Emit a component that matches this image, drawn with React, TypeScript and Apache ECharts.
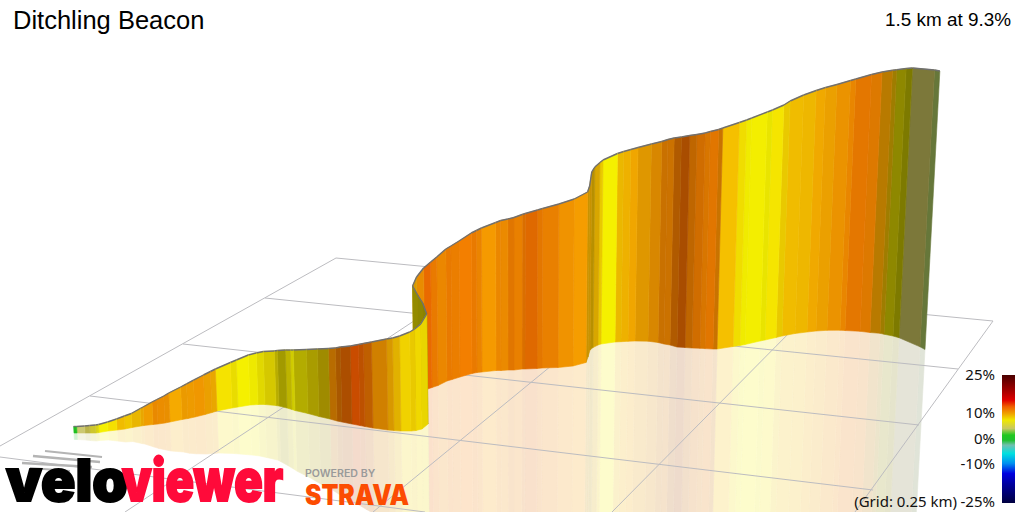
import React, { useEffect, useRef } from "react";
import * as echarts from "echarts";

const titleText = "Ditchling Beacon";
const summaryText = "1.5 km at 9.3%";
const gridNote = "(Grid: 0.25 km)";
const legendTicks = ["25%", "10%", "0%", "-10%", "-25%"];

// Projected road edge, band boundaries (picture units)
const groundX = [74,77,85,90,96,99,108,117,125,132,141,144,153,158,165,170,182,188,195,205,212,217,232,238,250,258,265,276,279,287,292,295,308,319,330,337,342,352,360,365,373,388,394,401,411,416,422,428,424,419,414,418,425,432,438,447,452,460,472,477,482,496,501,508,514,522,525,537,542,558,573,586,588,590,593,598,601,615,621,628,635,648,658,664,670,677,685,692,700,705,713,717,733,740,745,760,765,776,782,795,807,816,827,840,845,860,870,880,884,893,899,920,925];
const groundY = [433,433,433,433,433,432.5,431,430,429,427.5,426,425.5,424.5,424,423,422,419.5,418.5,417,414.5,412.5,411,408,407,405,404.5,404.5,405.5,406,408,409.5,410.5,413.5,416.5,419,421,422,424,425.5,426.5,428,430,430.5,431,431,430.5,429,424,415,405,395,393.5,390,387.5,385.5,381,379.5,377,373.5,372.5,372,370.5,370.5,370,370,369,369,368.5,368,367.5,366,362.5,357,350,347.5,345,344,342,341.7,341.3,341,341.2,342.5,344,345,347,347.5,348,348.3,348.6,349,349,346.5,345.5,344.5,341,340,337.5,336,333.5,332,331,330.3,330.2,330.5,331.3,332.5,333.3,334.2,336,337.7,346.8,349.5];
const topY = [426.5,426.5,426,425.5,425,424.5,422,419,416,413.5,408.5,407,402,399.5,396,393,387,383.8,380.2,375,371.5,369,362.5,360,355,353,351.5,351,350.5,350,350,350,349.5,349,348.5,348,347,346,344.5,343.5,342,339,338,336,332,329,324,314,303,295,286,277,268,262,257,249,246,241,233,230.5,228,222.5,220.5,219,217.5,214.5,213.5,210,208.5,204,199,192,186,172,167,162.5,160,153.5,151.5,149.5,147.5,144,141.5,139.5,138,137,135.5,134.5,133,131.5,129.5,128,122.5,120,118,112,110,105,101,95,90.5,87.5,84.5,80.5,79,74.5,72,70.3,69.8,68.5,68,70,71];
// Gradient (%) of each band between two boundaries, and the light on its face
const grades = [0,1,2,3,5,6,7,8,7.7,8,8.5,9,9.5,9.4,9.3,8.7,9,9,9.2,8.8,8.5,6.8,6.5,6,6,6.3,6.6,6.6,6.4,6.4,6,6.3,6.9,7.3,9.5,10,10.5,10.8,10.6,10.2,9.3,8.6,8,7.3,7.4,7.1,7,6.4,6.4,6.5,8.5,9.4,10.5,10,9.6,10,9.9,10,10,9.7,9.2,9.6,9.5,10,9.8,10.1,10.4,10,9.8,9.3,9.1,8.4,8.4,8,8.1,7.4,6,8,8.3,8.7,8.8,9.2,9.7,9.7,10.1,10.5,9.9,10,9.8,10,9.6,8,6.9,6,6,6,6.7,7.4,8,8.1,8.6,8.8,9.2,9.6,10,9.8,8.9,8,6.3,6,1.5,0.8];
const shades = [1,1,0.9,0.95,0.95,1,1,0.98,0.98,0.95,0.95,0.98,0.95,0.96,0.95,1,0.96,0.97,0.98,0.96,0.95,1,0.95,1,0.97,0.92,0.87,0.75,0.66,0.77,0.85,0.73,0.69,0.65,0.75,0.69,0.7,0.82,0.77,0.78,0.85,0.88,0.92,0.98,0.95,0.98,0.95,0.56,0.58,0.6,0.88,0.95,0.95,0.95,0.96,0.95,0.96,0.99,0.95,0.96,1,0.96,0.96,0.92,0.95,0.89,0.91,0.93,0.95,0.98,1,0.82,0.82,0.75,0.88,0.95,1,0.96,0.97,0.98,0.91,0.88,0.82,0.83,0.72,0.69,0.78,0.85,0.88,0.92,0.82,1,0.98,0.98,0.99,0.95,1,0.95,0.98,0.97,0.98,0.96,0.96,0.95,0.93,0.9,0.75,0.65,0.58,0.51,0.6,0.6];

// Ground grid lines: x1, y1, x2, y2
const gridAcross = [[336,258,993,321],[265,298,958,369],[183,344,919,425],[90,396,873,490],[0,457,425,512]];
const gridAlong = [[0,446,336,258],[125,512,488,272],[373,512,590,334],[612,512,800,322],[855,512,993,321]];

const gradeStops = [0,1,2,3,5,6,7,8,9,10,10.5,11];
const gradeColours = ["#20c020","#ccc870","#d0c850","#d8d030","#e8e010","#f5f000","#f5e000","#f5c000","#f5a000","#f58000","#f57000","#f55000"];

const legendStops: [number, string][] = [[0,"#4a0000"],[0.117,"#a00000"],[0.196,"#e00000"],[0.248,"#f06000"],[0.3,"#f0a000"],[0.352,"#f0e800"],[0.418,"#c8c860"],[0.47,"#20c820"],[0.51,"#20c030"],[0.548,"#70c0b0"],[0.614,"#00e0e0"],[0.69,"#0090f0"],[0.77,"#0000e0"],[0.85,"#0000a0"],[1,"#000040"]];

const LEAN = 0.00013;
const VANISH_X = 515;

const rgb = (h: string) => [parseInt(h.slice(1,3),16), parseInt(h.slice(3,5),16), parseInt(h.slice(5,7),16)];
const bandRgb = (grade: number, shade: number) => {
  let i = 0;
  while (i < gradeStops.length - 2 && grade > gradeStops[i + 1]) i++;
  const t = Math.min(1, Math.max(0, (grade - gradeStops[i]) / (gradeStops[i + 1] - gradeStops[i])));
  const a = rgb(gradeColours[i]), b = rgb(gradeColours[i + 1]);
  return a.map((v, k) => (v + (b[k] - v) * t) * shade);
};
const css = (c: number[]) => `rgb(${c.map((v) => Math.round(v)).join(",")})`;
const pale = (c: number[]) => c.map((v) => 255 + (v - 255) * 0.2);
const leanOf = (x: number, h: number) => (x - VANISH_X) * h * LEAN;

const order = grades.map((_, i) => grades.length - 1 - i);
const bandData = order.map((i) => [groundX[i], groundY[i], topY[i], groundX[i + 1], groundY[i + 1], topY[i + 1], grades[i], shades[i]]);

export default function App() {
  const ref = useRef<HTMLDivElement>(null);
  useEffect(() => {
    document.body.style.margin = "0";
    const chart = echarts.init(ref.current!, undefined, { renderer: "svg" });
    const sans = "Liberation Sans";
    const legendFont = '15px "Noto Sans"';
    const tickYs = [374, 412, 438, 463, 501];
    chart.setOption({
      animation: false,
      tooltip: { show: false },
      grid: { left: 0, right: 0, top: 0, bottom: 0 },
      xAxis: { type: "value", min: 0, max: 1024, show: false },
      yAxis: { type: "value", min: 0, max: 512, inverse: true, show: false },
      series: [
        {
          type: "custom", z: 1, silent: true, clip: true, data: bandData,
          renderItem: (_p: any, api: any) => {
            const [x0, b0, t0, x1, b1, t1, g, s] = [0,1,2,3,4,5,6,7].map((d) => api.value(d));
            const fill = css(pale(bandRgb(g, s)));
            const r0 = b0 + (b0 - t0), r1 = b1 + (b1 - t1);
            const pts = [[x0, b0], [x1, b1], [x1 - leanOf(x1, b1 - t1), r1], [x0 - leanOf(x0, b0 - t0), r0]].map((p) => api.coord(p));
            return { type: "polygon", shape: { points: pts }, style: { fill, stroke: fill, lineWidth: 0.6 } };
          },
        },
        {
          type: "custom", z: 2, silent: true, clip: true, data: [...gridAcross, ...gridAlong],
          renderItem: (_p: any, api: any) => {
            const a = api.coord([api.value(0), api.value(1)]);
            const b = api.coord([api.value(2), api.value(3)]);
            return { type: "line", shape: { x1: a[0], y1: a[1], x2: b[0], y2: b[1] }, style: { stroke: "#bcbcc0", lineWidth: 1, fill: "none" } };
          },
        },
        {
          type: "custom", z: 3, silent: true, clip: true, data: bandData,
          renderItem: (_p: any, api: any) => {
            const [x0, b0, t0, x1, b1, t1, g, s] = [0,1,2,3,4,5,6,7].map((d) => api.value(d));
            const fill = css(bandRgb(g, s));
            const top0 = api.coord([x0 + leanOf(x0, b0 - t0), t0]);
            const top1 = api.coord([x1 + leanOf(x1, b1 - t1), t1]);
            const pts = [top0, top1, api.coord([x1, b1]), api.coord([x0, b0])];
            return {
              type: "group",
              children: [
                { type: "polygon", shape: { points: pts }, style: { fill, stroke: fill, lineWidth: 0.6 } },
                { type: "line", shape: { x1: top0[0], y1: top0[1], x2: top1[0], y2: top1[1] }, style: { stroke: "#707070", lineWidth: 1.4, fill: "none" } },
              ],
            };
          },
        },
      ],
      graphic: [
        { type: "text", z: 20, x: 13, y: 20, style: { text: titleText, font: `25.5px "${sans}"`, fill: "#000", textVerticalAlign: "middle" } },
        { type: "text", z: 20, x: 1011, y: 19, style: { text: summaryText, font: `18.9px "${sans}"`, fill: "#000", textAlign: "right", textVerticalAlign: "middle" } },
        ...legendTicks.map((t, i) => ({ type: "text", z: 20, x: 995, y: tickYs[i], style: { text: t, font: legendFont, fill: "#111", textAlign: "right", textVerticalAlign: "middle" } })),
        { type: "text", z: 20, x: 957, y: 501, style: { text: gridNote, font: legendFont, fill: "#111", textAlign: "right", textVerticalAlign: "middle" } },
        {
          type: "rect", z: 20, shape: { x: 1002, y: 375, width: 13, height: 128 },
          style: { fill: new echarts.graphic.LinearGradient(0, 0, 0, 1, legendStops.map(([offset, color]) => ({ offset, color }))) },
        },
        { type: "line", z: 21, shape: { x1: 45, y1: 451, x2: 102, y2: 457 }, style: { stroke: "#b4b4b4", lineWidth: 2 } },
        { type: "line", z: 21, shape: { x1: 33, y1: 456, x2: 100, y2: 462 }, style: { stroke: "#b4b4b4", lineWidth: 2.5 } },
        { type: "line", z: 21, shape: { x1: 22, y1: 463, x2: 92, y2: 467 }, style: { stroke: "#b4b4b4", lineWidth: 2.5 } },
        { type: "line", z: 21, shape: { x1: 30, y1: 468, x2: 70, y2: 471 }, style: { stroke: "#b4b4b4", lineWidth: 2 } },
        { type: "text", z: 22, x: 6, y: 509, scaleX: 0.98, style: { text: "velo", font: '900 58px "Inter"', fill: "#000", stroke: "#000", lineWidth: 2, textVerticalAlign: "bottom" } },
        { type: "text", z: 22, x: 122, y: 509, scaleX: 0.81, style: { text: "viewer", font: '900 58px "Inter"', fill: "#ff0a3a", stroke: "#ff0a3a", lineWidth: 2, textVerticalAlign: "bottom" } },
        { type: "text", z: 22, x: 305, y: 473, scaleX: 1.06, style: { text: "POWERED BY", font: '600 10px "Inter"', fill: "#9a9a9a", textVerticalAlign: "middle" } },
        { type: "text", z: 22, x: 305, y: 494, scaleX: 0.88, style: { text: "STRAVA", font: '900 28px "Inter"', fill: "#fc4c02", textVerticalAlign: "middle" } },
      ],
    });
    return () => chart.dispose();
  }, []);
  return <div ref={ref} style={{ width: 1024, height: 512 }} />;
}
